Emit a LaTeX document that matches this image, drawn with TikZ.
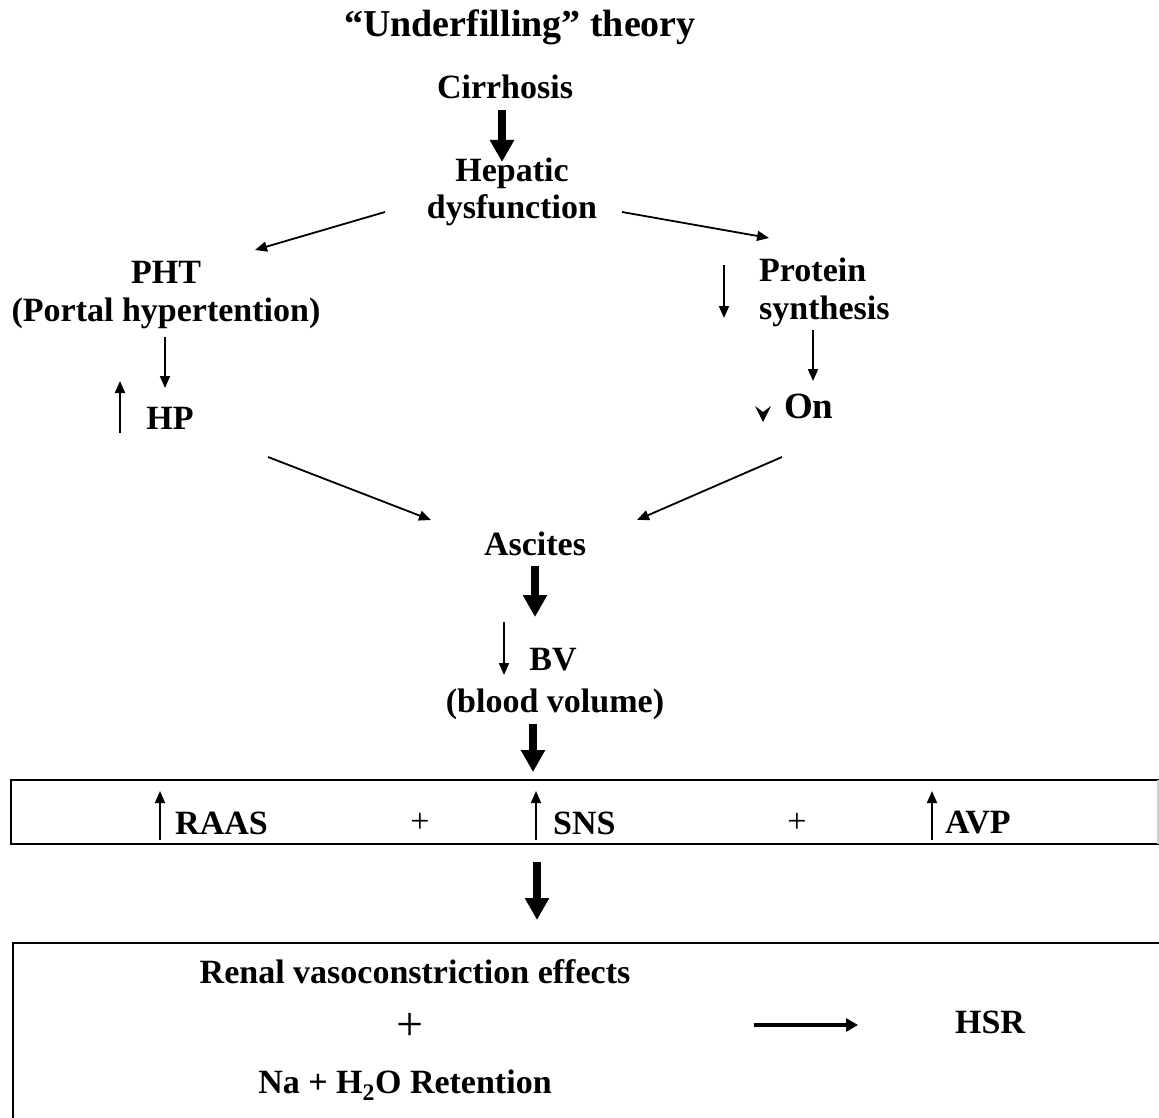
\documentclass[tikz,border=0pt]{standalone}
\usepackage{fontspec}
\setmainfont{Liberation Serif}
\usetikzlibrary{arrows.meta}
\begin{document}
\begin{tikzpicture}[x=1pt,y=-1pt,
  lbl/.style={font=\fontsize{34}{36}\selectfont\bfseries, inner sep=0pt, align=center},
  thin/.style={line width=1.8pt, -{Triangle[length=12pt,width=10pt]}},
  thick/.style={line width=8pt, -{Triangle[length=22pt,width=23pt]}},
  plus/.style={inner sep=0pt},
  frame/.style={line width=2pt, draw=black}]
\useasboundingbox (0,0) rectangle (1159,1118);
\fill[white] (0,0) rectangle (1159,1118);

% heading
\node[lbl, font=\fontsize{38}{40}\selectfont\bfseries] (title) at (520,27) {“Underfilling” theory};

% top of the cascade
\node[lbl] (cirr) at (505,87) {Cirrhosis};
\node[lbl, font=\fontsize{34}{37}\selectfont\bfseries] (hep) at (512,192) {Hepatic\\dysfunction};
\draw[thick] (502,110) -- (502,162);

% left branch: portal hypertension
\node[lbl, font=\fontsize{34}{38}\selectfont\bfseries] (pht) at (166,295) {PHT\\(Portal hypertention)};
\node[lbl] (hp) at (170,418) {HP};
\coordinate (hepL) at (385,212);
\coordinate (phtT) at (255,250);
\draw[thin] (hepL) -- (phtT);
\draw[thin] (165,337) -- (165,388);
\draw[thin] (120,433) -- (120,381);

% right branch: protein synthesis
\node[lbl, anchor=west, align=left, font=\fontsize{34}{38}\selectfont\bfseries] (prot) at (759,292) {Protein\\synthesis};
\node[lbl, anchor=west, font=\fontsize{37}{40}\selectfont\bfseries] (on) at (784,406) {On};
\coordinate (hepR) at (622,212);
\coordinate (protT) at (769,238);
\draw[thin] (hepR) -- (protT);
\draw[thin] (724,265) -- (724,318);
\draw[thin] (813,330) -- (813,381);
\fill (755,406) -- (763,412) -- (771,406) -- (763,422) -- cycle;

% ascites and blood volume
\node[lbl] (asc) at (535,544) {Ascites};
\draw[thin] (268,457) -- (431,520);
\draw[thin] (782,457) -- (637,520);
\draw[thick] (535,566) -- (535,617);
\node[lbl] (bv) at (553,660) {BV};
\draw[thin] (504,622) -- (504,675);
\node[lbl] (blood) at (555,704) {(blood volume)};
\draw[thick] (533,724) -- (533,772);

% neurohumoral activation
\draw[frame] (11,780) rectangle (1158,844);
\draw[line width=2pt, draw=gray!40] (1158,780) -- (1158,844);
\node[lbl, anchor=west] (raas) at (175,823) {RAAS};
\node[lbl, anchor=west] (sns) at (553,823) {SNS};
\node[lbl, anchor=west] (avp) at (945,823) {AVP};
\node[plus, font=\fontsize{34}{36}\selectfont] (p1) at (420,823) {+};
\node[plus, font=\fontsize{34}{36}\selectfont] (p2) at (797,823) {+};
\draw[thin] (160,840) -- (160,791);
\draw[thin] (536,840) -- (536,791);
\draw[thin] (932,840) -- (932,791);

\draw[thick] (537,862) -- (537,920);

% renal consequences
\draw[frame] (13,1118) -- (13,943) -- (1159,943);
\node[lbl] (renal) at (415,972) {Renal vasoconstriction effects};
\node[plus, font=\fontsize{48}{50}\selectfont] (p3) at (410,1027) {+};
\node[lbl] (na) at (405,1085) {Na + H\textsubscript{2}O Retention};
\node[lbl] (hsr) at (990,1022) {HSR};
\coordinate (hsrA) at (754,1025);
\coordinate (hsrB) at (858,1025);
\draw[line width=4pt, -{Triangle[length=12pt,width=13pt]}] (hsrA) -- (hsrB);
\end{tikzpicture}
\end{document}
